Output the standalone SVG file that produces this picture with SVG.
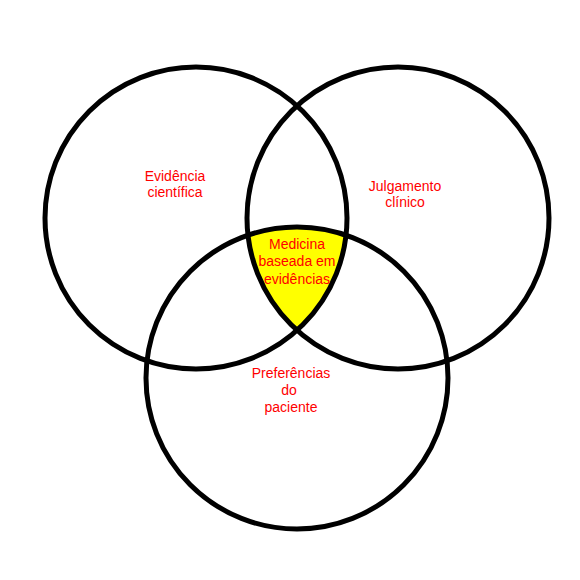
<svg xmlns="http://www.w3.org/2000/svg" width="580" height="580" viewBox="0 0 580 580">
<style>
.c{fill:none;stroke:#000;stroke-width:5}
.t{font-family:"Liberation Sans",Arial,sans-serif;font-size:14px;fill:#ff0000;text-anchor:middle}
</style>
<rect width="580" height="580" fill="#fff"/>
<g id="center-region">
<path d="M247.9 235.2 A151 151 0 0 1 346.1 235.2 A151 151 0 0 1 297 330.3 A151 151 0 0 1 247.9 235.2 Z" fill="#ffff00"/>
</g>
<g id="circle-evidencia">
<circle class="c" cx="196" cy="218" r="151"/>
</g>
<g id="circle-julgamento">
<circle class="c" cx="398" cy="218" r="151"/>
</g>
<g id="circle-preferencias">
<circle class="c" cx="297" cy="378" r="151"/>
</g>
<g id="labels">
<text class="t" x="175" y="181">Evidência</text>
<text class="t" x="175" y="197">científica</text>
<text class="t" x="405" y="191">Julgamento</text>
<text class="t" x="405" y="207">clínico</text>
<text class="t" x="297" y="249">Medicina</text>
<text class="t" x="297" y="266">baseada em</text>
<text class="t" x="297" y="284">evidências</text>
<text class="t" x="291" y="378">Preferências</text>
<text class="t" x="289" y="395">do</text>
<text class="t" x="291" y="412">paciente</text>
</g>
</svg>
